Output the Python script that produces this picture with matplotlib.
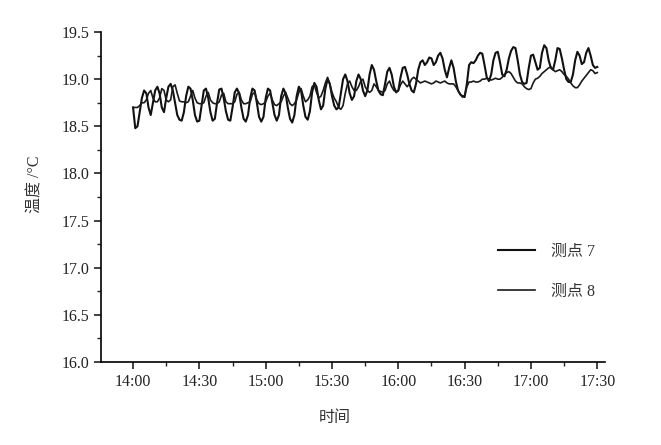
import matplotlib.pyplot as plt
from matplotlib.ticker import FixedLocator, MultipleLocator

# minutes after 14:00, one reading per minute
minutes = list(range(211))

point7 = [
    18.70, 18.48, 18.50, 18.65, 18.80, 18.88, 18.85, 18.70, 18.62, 18.75,
    18.88, 18.92, 18.85, 18.70, 18.65, 18.80, 18.92, 18.95, 18.88, 18.75,
    18.62, 18.57, 18.56, 18.65, 18.82, 18.92, 18.90, 18.78, 18.62, 18.55,
    18.56, 18.72, 18.88, 18.90, 18.80, 18.65, 18.56, 18.58, 18.75, 18.89,
    18.90, 18.80, 18.66, 18.57, 18.56, 18.70, 18.86, 18.90, 18.85, 18.70,
    18.58, 18.55, 18.62, 18.80, 18.90, 18.88, 18.75, 18.60, 18.55, 18.60,
    18.80, 18.90, 18.88, 18.75, 18.62, 18.56, 18.62, 18.82, 18.90, 18.85,
    18.70, 18.58, 18.54, 18.62, 18.82, 18.92, 18.88, 18.72, 18.60, 18.57,
    18.66, 18.86, 18.96, 18.92, 18.78, 18.68, 18.72, 18.90, 19.00, 18.95,
    18.82, 18.72, 18.68, 18.70, 18.85, 19.00, 19.05, 18.98, 18.85, 18.78,
    18.82, 18.98, 19.05, 19.00, 18.88, 18.82, 18.88, 19.05, 19.15, 19.10,
    18.98, 18.88, 18.84, 18.83, 18.95, 19.08, 19.12, 19.05, 18.92, 18.86,
    18.88, 19.02, 19.12, 19.13, 19.05, 18.95, 18.88, 18.86, 18.95, 19.10,
    19.18, 19.20, 19.15, 19.18, 19.23, 19.22, 19.15, 19.18, 19.25, 19.28,
    19.22, 19.10, 19.02, 19.12, 19.20, 19.12, 18.98, 18.88, 18.84, 18.82,
    18.81, 18.95, 19.15, 19.18, 19.17, 19.20, 19.25, 19.28, 19.27, 19.15,
    19.02, 18.98, 19.05, 19.20, 19.28, 19.29, 19.18, 19.05, 19.03, 19.10,
    19.22, 19.30, 19.34, 19.33, 19.20, 19.05, 18.97, 18.95, 18.96, 19.12,
    19.25, 19.26, 19.18, 19.10, 19.12, 19.28, 19.36, 19.33, 19.20, 19.12,
    19.10, 19.20, 19.33, 19.32, 19.22, 19.10, 19.00, 18.97, 18.97, 19.05,
    19.20, 19.29, 19.25, 19.16, 19.18, 19.28, 19.33, 19.25, 19.15, 19.12,
    19.13,
]

point8 = [
    18.70, 18.70, 18.70, 18.72, 18.75, 18.75, 18.78, 18.85, 18.88, 18.80,
    18.76, 18.76, 18.80, 18.90, 18.88, 18.78, 18.76, 18.78, 18.92, 18.94,
    18.85, 18.77, 18.76, 18.76, 18.75, 18.76, 18.82, 18.88, 18.80, 18.75,
    18.74, 18.74, 18.75, 18.82, 18.86, 18.78, 18.75, 18.74, 18.74, 18.76,
    18.83, 18.85, 18.76, 18.74, 18.74, 18.74, 18.76, 18.84, 18.86, 18.78,
    18.74, 18.74, 18.75, 18.76, 18.84, 18.86, 18.78, 18.74, 18.73, 18.74,
    18.76, 18.82, 18.85, 18.78, 18.73, 18.72, 18.74, 18.76, 18.82, 18.86,
    18.80, 18.74, 18.72, 18.74, 18.78, 18.86, 18.90, 18.82, 18.76, 18.78,
    18.82, 18.92, 18.94, 18.86, 18.80, 18.82, 18.88, 18.96, 19.02, 18.95,
    18.86, 18.80, 18.76, 18.70, 18.68, 18.72, 18.85, 18.95, 18.98, 18.92,
    18.88, 18.88, 18.92, 18.98, 19.00, 18.92, 18.88, 18.86, 18.88, 18.95,
    18.92, 18.88, 18.87, 18.86, 18.88, 18.95, 18.98, 18.92, 18.88, 18.87,
    18.88, 18.94, 18.98, 18.95, 18.92, 18.95, 19.00, 19.02, 19.00, 18.98,
    18.96, 18.97, 18.98, 18.97, 18.96, 18.95, 18.96, 18.98, 18.97, 18.96,
    18.97, 18.98, 18.96, 18.95, 18.95, 18.95, 18.92, 18.88, 18.84, 18.81,
    18.83, 18.92, 18.97, 18.97, 18.98, 18.97, 18.97, 18.98, 19.00, 19.00,
    19.01, 19.00, 18.99, 19.00, 19.01, 19.00, 19.00, 19.02, 19.05, 19.07,
    19.08, 19.06, 19.02, 18.98, 18.96, 18.96, 18.95, 18.92, 18.90, 18.89,
    18.90, 18.96, 19.00, 19.01, 19.03, 19.06, 19.08, 19.10, 19.12, 19.13,
    19.10, 19.08, 19.09, 19.10, 19.08, 19.05, 19.03, 19.00, 18.96, 18.93,
    18.91, 18.91, 18.94, 18.98, 19.01, 19.04, 19.07, 19.10, 19.09, 19.06,
    19.07,
]

tick_pos = [0, 30, 60, 90, 120, 150, 180, 210]
tick_labels = ['14:00', '14:30', '15:00', '15:30', '16:00', '16:30', '17:00', '17:30']

plt.rcParams['font.family'] = ['Liberation Serif', 'Noto Sans CJK SC']
plt.rcParams['font.size'] = 11.5

fig = plt.figure(figsize=(6.61, 4.45), dpi=100)
ax = fig.add_axes([0.1528, 0.1865, 0.7625, 0.7415])

ax.plot(minutes, point7, color='#111111', lw=1.5, label='测点 7')
ax.plot(minutes, point8, color='#1a1a1a', lw=1.2, label='测点 8')

ax.set_xlim(-14.5, 213.5)
ax.set_ylim(16.0, 19.5)
ax.xaxis.set_major_locator(FixedLocator(tick_pos))
ax.set_xticklabels(tick_labels)
ax.xaxis.set_minor_locator(MultipleLocator(15))
ax.yaxis.set_major_locator(MultipleLocator(0.5))
ax.yaxis.set_minor_locator(MultipleLocator(0.25))
ax.yaxis.set_major_formatter(plt.FormatStrFormatter('%.1f'))

ax.spines['top'].set_visible(False)
ax.spines['right'].set_visible(False)
for s in ['left', 'bottom']:
    ax.spines[s].set_linewidth(1.2)
ax.tick_params(which='major', direction='out', length=5, width=1.2, colors='#222222')
ax.tick_params(which='minor', direction='out', length=3, width=1.0, colors='#222222')

ax.set_xlabel('时间', color='#333333')
ax.set_ylabel('温度 /°C', color='#333333')
ax.xaxis.set_label_coords(0.464, -0.145)
ax.yaxis.set_label_coords(-0.115, 0.54)

leg = ax.legend(loc='lower left', bbox_to_anchor=(0.76, 0.145), frameon=False,
                handlelength=2.3, labelspacing=1.5, handletextpad=1.0)
for t in leg.get_texts():
    t.set_color('#333333')

plt.savefig('out.png', dpi=100)
